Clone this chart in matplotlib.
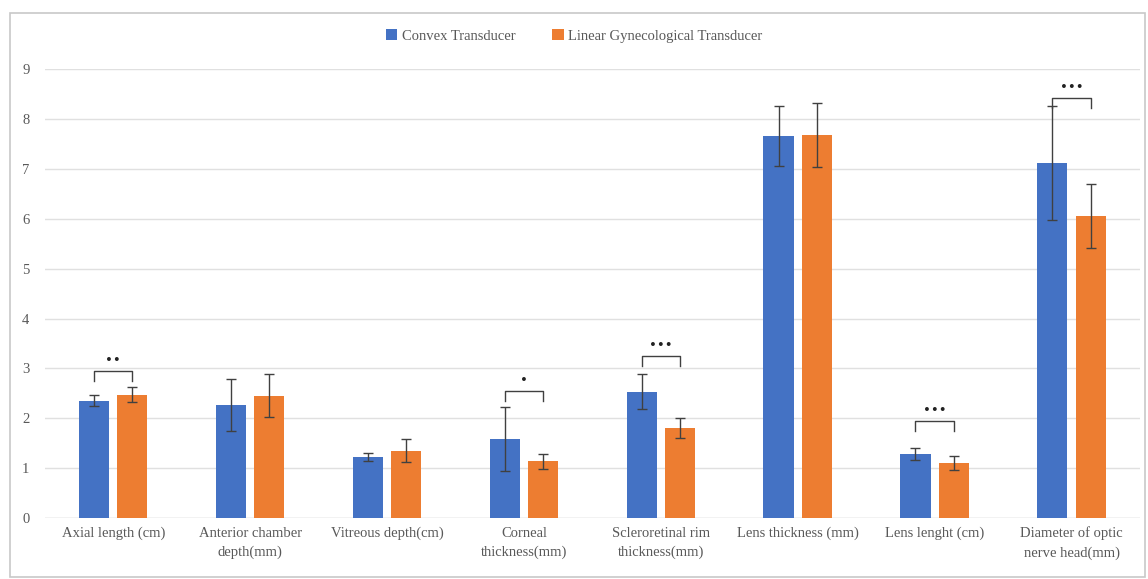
import matplotlib.pyplot as plt
import numpy as np
from matplotlib.patches import Rectangle

categories = ["Axial length (cm)", "Anterior chamber\ndepth(mm)", "Vitreous depth(cm)",
              "Corneal\nthickness(mm)", "Scleroretinal rim\nthickness(mm)", "Lens thickness (mm)",
              "Lens lenght (cm)", "Diameter of optic\nnerve head(mm)"]
convex = [2.35, 2.27, 1.22, 1.58, 2.53, 7.65, 1.28, 7.12]
convex_err = [0.11, 0.52, 0.08, 0.64, 0.35, 0.60, 0.12, 1.14]
linear = [2.47, 2.45, 1.35, 1.14, 1.80, 7.67, 1.11, 6.05]
linear_err = [0.15, 0.43, 0.23, 0.15, 0.20, 0.64, 0.14, 0.64]
# significance brackets: category index, bracket height, stars
sig_idx = [0, 3, 4, 6, 7]
sig_y = [2.95, 2.55, 3.25, 1.95, 8.42]
sig_txt = ["••", "•", "•••", "•••", "•••"]

BLUE = "#4472C4"
ORANGE = "#ED7D31"
GREY = "#595959"
plt.rcParams["font.family"] = ["Liberation Serif", "DejaVu Serif"]

fig = plt.figure(figsize=(11.48, 5.79), dpi=100)
ax = fig.add_axes([0.039, 0.105, 0.954, 0.776])
fig.patches.append(Rectangle((0.009, 0.004), 0.988, 0.973, transform=fig.transFigure,
                             fill=False, edgecolor="#c8c8c8", linewidth=1.2))

x = np.arange(len(categories))
w = 0.22
off = 0.14
ekw = dict(ecolor="#404040", elinewidth=1, capsize=3.5, capthick=1)
ax.bar(x - off, convex, w, yerr=convex_err, color=BLUE, error_kw=ekw,
       label="Convex Transducer", zorder=2)
ax.bar(x + off, linear, w, yerr=linear_err, color=ORANGE, error_kw=ekw,
       label="Linear Gynecological Transducer", zorder=2)

for i, yb, s in zip(sig_idx, sig_y, sig_txt):
    ax.plot([i - off, i - off, i + off, i + off], [yb - 0.2, yb, yb, yb - 0.2],
            color="#404040", linewidth=1, zorder=3)
    ax.text(i, yb + 0.08, s, ha="center", va="bottom", fontsize=9.5,
            color="#222222", family="DejaVu Sans")

ax.set_xlim(-0.5, 7.5)
ax.set_ylim(0, 9)
ax.set_yticks(range(10))
ax.set_xticks(x)
ax.set_xticklabels(categories, fontsize=10.5, color=GREY, linespacing=1.6)
ax.tick_params(axis="y", labelsize=10.5, labelcolor=GREY, length=0, pad=11)
ax.tick_params(axis="x", length=0, pad=6)
ax.grid(axis="y", color="#e0e0e0", linewidth=1, zorder=0)
for sp in ax.spines.values():
    sp.set_visible(False)
ax.axhline(0, color="#d9d9d9", linewidth=1, zorder=1)

fig.legend(loc="upper center", bbox_to_anchor=(0.5, 0.972), ncol=2, frameon=False,
           fontsize=10.5, labelcolor=GREY, handlelength=0.8, handleheight=0.8,
           handletextpad=0.3, columnspacing=2.5)

fig.savefig("out.png", dpi=100)
